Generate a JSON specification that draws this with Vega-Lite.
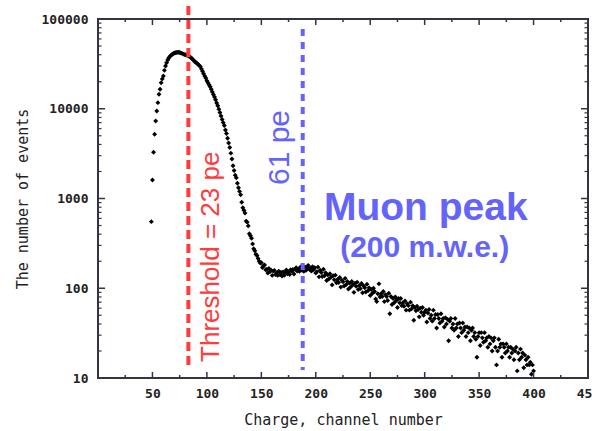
{
  "$schema": "https://vega.github.io/schema/vega-lite/v6.json",
  "width": 490,
  "height": 359,
  "autosize": {"type": "none"},
  "padding": {"left": 98, "top": 19, "right": 4, "bottom": 53},
  "background": "white",
  "config": {
    "view": {"stroke": null},
    "axis": {
      "grid": false,
      "domain": false,
      "ticks": false,
      "labelFont": "DejaVu Sans Mono",
      "labelFontSize": 13,
      "labelFontWeight": "bold",
      "labelColor": "#222222",
      "titleFont": "DejaVu Sans Mono",
      "titleFontSize": 15,
      "titleFontWeight": "normal",
      "titleColor": "#222222"
    }
  },
  "datasets": {
    "xmajor": [{"value":50},{"value":100},{"value":150},{"value":200},{"value":250},{"value":300},{"value":350},{"value":400}],
    "xminor": [{"value":25},{"value":75},{"value":125},{"value":175},{"value":225},{"value":275},{"value":325},{"value":375},{"value":425}],
    "ymajor": [{"value":100},{"value":1000},{"value":10000}],
    "yminor": [{"value":20},{"value":30},{"value":40},{"value":50},{"value":60},{"value":70},{"value":80},{"value":90},{"value":200},{"value":300},{"value":400},{"value":500},{"value":600},{"value":700},{"value":800},{"value":900},{"value":2000},{"value":3000},{"value":4000},{"value":5000},{"value":6000},{"value":7000},{"value":8000},{"value":9000},{"value":20000},{"value":30000},{"value":40000},{"value":50000},{"value":60000},{"value":70000},{"value":80000},{"value":90000}]
  },
  "data": {"values": [
    {"channel":49,"events":552},{"channel":50,"events":1610},{"channel":51,"events":3270},{"channel":52,"events":5190},{"channel":53,"events":7310},{"channel":54,"events":9450},{"channel":55,"events":11700},{"channel":56,"events":14500},{"channel":57,"events":16500},{"channel":58,"events":19500},{"channel":59,"events":21500},{"channel":60,"events":23200},{"channel":61,"events":26800},{"channel":62,"events":29900},{"channel":63,"events":32500},{"channel":64,"events":34900},{"channel":65,"events":36700},{"channel":66,"events":38200},{"channel":67,"events":39300},{"channel":68,"events":40200},{"channel":69,"events":41000},{"channel":70,"events":41800},{"channel":71,"events":42100},{"channel":72,"events":42300},{"channel":73,"events":42500},{"channel":74,"events":42600},
    {"channel":75,"events":42300},{"channel":76,"events":41900},{"channel":77,"events":41400},{"channel":78,"events":40900},{"channel":79,"events":40400},{"channel":80,"events":40000},{"channel":81,"events":39700},{"channel":82,"events":39400},{"channel":83,"events":38900},{"channel":84,"events":38200},{"channel":85,"events":37400},{"channel":86,"events":36500},{"channel":87,"events":35500},{"channel":88,"events":34500},{"channel":89,"events":33400},{"channel":90,"events":32700},{"channel":91,"events":32000},{"channel":92,"events":31100},{"channel":93,"events":30300},{"channel":94,"events":29500},{"channel":95,"events":27800},{"channel":96,"events":26200},{"channel":97,"events":24600},{"channel":98,"events":23100},{"channel":99,"events":22000},{"channel":100,"events":20500},
    {"channel":101,"events":19500},{"channel":102,"events":18500},{"channel":103,"events":17600},{"channel":104,"events":16500},{"channel":105,"events":15400},{"channel":106,"events":14400},{"channel":107,"events":13500},{"channel":108,"events":12600},{"channel":109,"events":11600},{"channel":110,"events":10800},{"channel":111,"events":9900},{"channel":112,"events":9100},{"channel":113,"events":8300},{"channel":114,"events":7600},{"channel":115,"events":7000},{"channel":116,"events":6500},{"channel":117,"events":5800},{"channel":118,"events":5300},{"channel":119,"events":4700},{"channel":120,"events":4150},{"channel":121,"events":3700},{"channel":122,"events":3200},{"channel":123,"events":2750},{"channel":124,"events":2320},{"channel":125,"events":2050},
    {"channel":126,"events":1820},{"channel":127,"events":1700},{"channel":128,"events":1480},{"channel":129,"events":1320},{"channel":130,"events":1200},{"channel":131,"events":1100},{"channel":132,"events":910},{"channel":133,"events":790},{"channel":134,"events":740},{"channel":135,"events":690},{"channel":136,"events":560},{"channel":137,"events":545},{"channel":138,"events":495},{"channel":139,"events":405},{"channel":140,"events":385},{"channel":141,"events":360},{"channel":142,"events":312},{"channel":143,"events":275},{"channel":144,"events":262},{"channel":145,"events":240},{"channel":146,"events":232},{"channel":147,"events":215},{"channel":148,"events":200},{"channel":149,"events":191},
    {"channel":150,"events":193},{"channel":151,"events":170},{"channel":152,"events":178},{"channel":153,"events":182},{"channel":154,"events":161},{"channel":155,"events":163},{"channel":156,"events":148},{"channel":157,"events":166},{"channel":158,"events":153},{"channel":159,"events":159},{"channel":160,"events":139},{"channel":161,"events":155},{"channel":162,"events":158},{"channel":163,"events":142},{"channel":164,"events":148},{"channel":165,"events":139},{"channel":166,"events":155},{"channel":167,"events":142},{"channel":168,"events":151},{"channel":169,"events":137},{"channel":170,"events":152},{"channel":171,"events":139},{"channel":172,"events":151},{"channel":173,"events":160},{"channel":174,"events":145},
    {"channel":175,"events":152},{"channel":176,"events":142},{"channel":177,"events":161},{"channel":178,"events":154},{"channel":179,"events":162},{"channel":180,"events":144},{"channel":181,"events":163},{"channel":182,"events":169},{"channel":183,"events":155},{"channel":184,"events":163},{"channel":185,"events":154},{"channel":186,"events":173},{"channel":187,"events":160},{"channel":188,"events":170},{"channel":189,"events":154},{"channel":190,"events":173},{"channel":191,"events":158},{"channel":192,"events":170},{"channel":193,"events":180},{"channel":194,"events":163},{"channel":195,"events":168},{"channel":196,"events":155},{"channel":197,"events":174},{"channel":198,"events":162},{"channel":199,"events":169},{"channel":200,"events":148},
    {"channel":201,"events":153},{"channel":202,"events":172},{"channel":203,"events":134},{"channel":204,"events":159},{"channel":205,"events":150},{"channel":206,"events":135},{"channel":207,"events":163},{"channel":208,"events":138},{"channel":209,"events":149},{"channel":210,"events":122},{"channel":211,"events":141},{"channel":212,"events":127},{"channel":213,"events":145},{"channel":214,"events":133},{"channel":215,"events":109},{"channel":216,"events":138},{"channel":217,"events":124},{"channel":218,"events":140},{"channel":219,"events":115},{"channel":220,"events":125},{"channel":221,"events":116},{"channel":222,"events":132},{"channel":223,"events":103},{"channel":224,"events":123},{"channel":225,"events":118},
    {"channel":226,"events":106},{"channel":227,"events":129},{"channel":228,"events":110},{"channel":229,"events":119},{"channel":230,"events":98},{"channel":231,"events":114},{"channel":232,"events":103},{"channel":233,"events":119},{"channel":234,"events":109},{"channel":235,"events":90},{"channel":236,"events":114},{"channel":237,"events":105},{"channel":238,"events":117},{"channel":239,"events":97},{"channel":240,"events":107},{"channel":241,"events":99},{"channel":242,"events":113},{"channel":243,"events":89},{"channel":244,"events":106},{"channel":245,"events":101},{"channel":246,"events":91},{"channel":247,"events":111},{"channel":248,"events":94},{"channel":249,"events":101},{"channel":250,"events":83},
    {"channel":251,"events":97},{"channel":252,"events":88},{"channel":253,"events":100},{"channel":254,"events":92},{"channel":255,"events":76},{"channel":256,"events":71},{"channel":257,"events":87},{"channel":258,"events":112},{"channel":259,"events":80},{"channel":260,"events":87},{"channel":261,"events":81},{"channel":262,"events":92},{"channel":263,"events":71},{"channel":264,"events":85},{"channel":265,"events":81},{"channel":266,"events":73},{"channel":267,"events":88},{"channel":268,"events":52},{"channel":269,"events":81},{"channel":270,"events":66},{"channel":271,"events":77},{"channel":272,"events":69},{"channel":273,"events":80},{"channel":274,"events":73},{"channel":275,"events":61},
    {"channel":276,"events":77},{"channel":277,"events":69},{"channel":278,"events":77},{"channel":279,"events":64},{"channel":280,"events":69},{"channel":281,"events":63},{"channel":282,"events":72},{"channel":283,"events":57},{"channel":284,"events":67},{"channel":285,"events":64},{"channel":286,"events":57},{"channel":287,"events":70},{"channel":288,"events":59},{"channel":289,"events":64},{"channel":290,"events":44},{"channel":291,"events":61},{"channel":292,"events":56},{"channel":293,"events":63},{"channel":294,"events":58},{"channel":295,"events":48},{"channel":296,"events":60},{"channel":297,"events":54},{"channel":298,"events":61},{"channel":299,"events":50},{"channel":300,"events":54},
    {"channel":301,"events":57},{"channel":302,"events":42},{"channel":303,"events":53},{"channel":304,"events":58},{"channel":305,"events":46},{"channel":306,"events":50},{"channel":307,"events":43},{"channel":308,"events":57},{"channel":309,"events":46},{"channel":310,"events":51},{"channel":311,"events":36},{"channel":312,"events":51},{"channel":313,"events":46},{"channel":314,"events":41},{"channel":315,"events":52},{"channel":316,"events":43},{"channel":317,"events":46},{"channel":318,"events":37},{"channel":319,"events":47},{"channel":320,"events":40},{"channel":321,"events":45},{"channel":322,"events":26},{"channel":323,"events":43},{"channel":324,"events":46},{"channel":325,"events":36},
    {"channel":326,"events":40},{"channel":327,"events":34},{"channel":328,"events":46},{"channel":329,"events":36},{"channel":330,"events":40},{"channel":331,"events":29},{"channel":332,"events":41},{"channel":333,"events":36},{"channel":334,"events":32},{"channel":335,"events":41},{"channel":336,"events":34},{"channel":337,"events":37},{"channel":338,"events":29},{"channel":339,"events":37},{"channel":340,"events":32},{"channel":341,"events":36},{"channel":342,"events":26},{"channel":343,"events":34},{"channel":344,"events":36},{"channel":345,"events":29},{"channel":346,"events":32},{"channel":347,"events":27},{"channel":348,"events":17},{"channel":349,"events":29},{"channel":350,"events":32},
    {"channel":351,"events":23},{"channel":352,"events":32},{"channel":353,"events":28},{"channel":354,"events":25},{"channel":355,"events":32},{"channel":356,"events":26},{"channel":357,"events":28},{"channel":358,"events":22},{"channel":359,"events":29},{"channel":360,"events":24},{"channel":361,"events":28},{"channel":362,"events":20},{"channel":363,"events":26},{"channel":364,"events":28},{"channel":365,"events":22},{"channel":366,"events":14},{"channel":367,"events":20},{"channel":368,"events":27},{"channel":369,"events":22},{"channel":370,"events":24},{"channel":371,"events":17},{"channel":372,"events":24},{"channel":373,"events":22},{"channel":374,"events":19},{"channel":375,"events":24},
    {"channel":376,"events":20},{"channel":377,"events":22},{"channel":378,"events":17},{"channel":379,"events":22},{"channel":380,"events":19},{"channel":381,"events":21},{"channel":382,"events":16},{"channel":383,"events":20},{"channel":384,"events":22},{"channel":385,"events":12},{"channel":386,"events":19},{"channel":387,"events":16},{"channel":388,"events":21},{"channel":389,"events":17},{"channel":390,"events":19},{"channel":391,"events":13},{"channel":392,"events":18},{"channel":393,"events":16},{"channel":394,"events":14},{"channel":395,"events":17},{"channel":396,"events":14},{"channel":397,"events":15},{"channel":398,"events":11},{"channel":399,"events":14},{"channel":400,"events":12}
  ]},
  "layer": [
    {
      "mark": {"type": "point", "shape": "diamond", "filled": true, "color": "#000000", "size": 24, "opacity": 1},
      "encoding": {
        "x": {
          "field": "channel", "type": "quantitative",
          "scale": {"type": "linear", "domain": [0, 450], "nice": false, "zero": false},
          "axis": {
            "orient": "bottom", "title": "Charge, channel number",
            "values": [50,100,150,200,250,300,350,400,450],
            "format": "d",
            "labelPadding": 9, "labelFlush": false, "labelOverlap": false, "titlePadding": 12
          }
        },
        "y": {
          "field": "events", "type": "quantitative",
          "scale": {"type": "log", "domain": [10, 100000], "nice": false},
          "axis": {
            "orient": "left", "title": "The number of events",
            "values": [10,100,1000,10000,100000],
            "format": "d",
            "labelPadding": 10, "labelOverlap": false, "titlePadding": 11
          }
        }
      }
    },
    {
      "data": {"values": [{"channel": 0, "channel_end": 450, "events": 10, "events_end": 100000}]},
      "mark": {"type": "rect", "fill": null, "filled": false, "stroke": "#333344", "strokeWidth": 2},
      "encoding": {
        "x": {"field": "channel", "type": "quantitative"},
        "x2": {"field": "channel_end"},
        "y": {"field": "events", "type": "quantitative"},
        "y2": {"field": "events_end"}
      }
    },
    {
      "data": {"name": "xmajor"},
      "mark": {"type": "tick", "orient": "vertical", "color": "#333344", "size": 6, "thickness": 1.5, "yOffset": -3, "opacity": 1},
      "encoding": {"x": {"field": "value", "type": "quantitative"}, "y": {"datum": 10, "type": "quantitative"}}
    },
    {
      "data": {"name": "xmajor"},
      "mark": {"type": "tick", "orient": "vertical", "color": "#333344", "size": 6, "thickness": 1.5, "yOffset": 3, "opacity": 1},
      "encoding": {"x": {"field": "value", "type": "quantitative"}, "y": {"datum": 100000, "type": "quantitative"}}
    },
    {
      "data": {"name": "xminor"},
      "mark": {"type": "tick", "orient": "vertical", "color": "#333344", "size": 3, "thickness": 1.5, "yOffset": -1.5, "opacity": 1},
      "encoding": {"x": {"field": "value", "type": "quantitative"}, "y": {"datum": 10, "type": "quantitative"}}
    },
    {
      "data": {"name": "xminor"},
      "mark": {"type": "tick", "orient": "vertical", "color": "#333344", "size": 3, "thickness": 1.5, "yOffset": 1.5, "opacity": 1},
      "encoding": {"x": {"field": "value", "type": "quantitative"}, "y": {"datum": 100000, "type": "quantitative"}}
    },
    {
      "data": {"name": "ymajor"},
      "mark": {"type": "tick", "orient": "horizontal", "color": "#333344", "size": 7, "thickness": 1.5, "xOffset": 3.5, "opacity": 1},
      "encoding": {"y": {"field": "value", "type": "quantitative"}, "x": {"datum": 0, "type": "quantitative"}}
    },
    {
      "data": {"name": "ymajor"},
      "mark": {"type": "tick", "orient": "horizontal", "color": "#333344", "size": 7, "thickness": 1.5, "xOffset": -3.5, "opacity": 1},
      "encoding": {"y": {"field": "value", "type": "quantitative"}, "x": {"datum": 450, "type": "quantitative"}}
    },
    {
      "data": {"name": "yminor"},
      "mark": {"type": "tick", "orient": "horizontal", "color": "#333344", "size": 3.5, "thickness": 1.2, "xOffset": 1.75, "opacity": 1},
      "encoding": {"y": {"field": "value", "type": "quantitative"}, "x": {"datum": 0, "type": "quantitative"}}
    },
    {
      "data": {"name": "yminor"},
      "mark": {"type": "tick", "orient": "horizontal", "color": "#333344", "size": 3.5, "thickness": 1.2, "xOffset": -1.75, "opacity": 1},
      "encoding": {"y": {"field": "value", "type": "quantitative"}, "x": {"datum": 450, "type": "quantitative"}}
    },
    {
      "data": {"values": [{"channel": 83, "events": 140000, "events_end": 14}]},
      "mark": {"type": "rule", "color": "#ff3b3b", "strokeWidth": 4, "strokeDash": [9, 5]},
      "encoding": {
        "x": {"field": "channel", "type": "quantitative"},
        "y": {"field": "events", "type": "quantitative"},
        "y2": {"field": "events_end"}
      }
    },
    {
      "data": {"values": [{"channel": 188, "events": 77400, "events_end": 12.3}]},
      "mark": {"type": "rule", "color": "#6464fa", "strokeWidth": 4, "strokeDash": [7, 6]},
      "encoding": {
        "x": {"field": "channel", "type": "quantitative"},
        "y": {"field": "events", "type": "quantitative"},
        "y2": {"field": "events_end"}
      }
    },
    {
      "data": {"values": [{"channel": 110.8, "events": 15.1, "label": "Threshold = 23 pe"}]},
      "mark": {"type": "text", "angle": 270, "align": "left", "baseline": "alphabetic", "font": "Liberation Sans", "fontSize": 26, "color": "#ff3b3b"},
      "encoding": {
        "x": {"field": "channel", "type": "quantitative"},
        "y": {"field": "events", "type": "quantitative"},
        "text": {"field": "label"}
      }
    },
    {
      "data": {"values": [{"channel": 175, "events": 1413, "label": "61 pe"}]},
      "mark": {"type": "text", "angle": 270, "align": "left", "baseline": "alphabetic", "font": "Liberation Sans", "fontSize": 30, "color": "#6464fa"},
      "encoding": {
        "x": {"field": "channel", "type": "quantitative"},
        "y": {"field": "events", "type": "quantitative"},
        "text": {"field": "label"}
      }
    },
    {
      "data": {"values": [{"channel": 301, "events": 576, "label": "Muon peak"}]},
      "mark": {"type": "text", "align": "center", "baseline": "alphabetic", "font": "Liberation Sans", "fontSize": 39, "fontWeight": "bold", "color": "#6464fa"},
      "encoding": {
        "x": {"field": "channel", "type": "quantitative"},
        "y": {"field": "events", "type": "quantitative"},
        "text": {"field": "label"}
      }
    },
    {
      "data": {"values": [{"channel": 300, "events": 221, "label": "(200 m.w.e.)"}]},
      "mark": {"type": "text", "align": "center", "baseline": "alphabetic", "font": "Liberation Sans", "fontSize": 30, "fontWeight": "bold", "color": "#6464fa"},
      "encoding": {
        "x": {"field": "channel", "type": "quantitative"},
        "y": {"field": "events", "type": "quantitative"},
        "text": {"field": "label"}
      }
    }
  ]
}
